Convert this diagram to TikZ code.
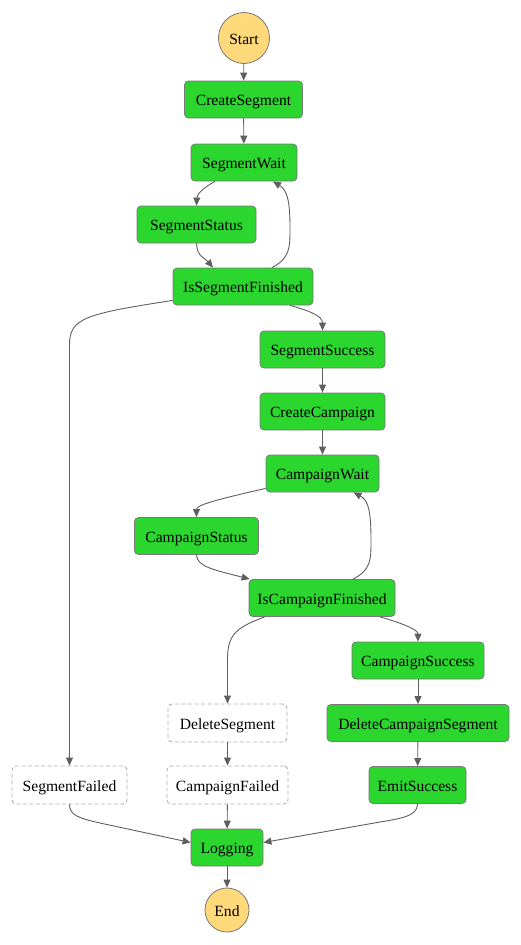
\documentclass[tikz,border=0pt]{standalone}
\usepackage{fontspec}
\setmainfont{Liberation Serif}
\usetikzlibrary{arrows.meta,calc}
\definecolor{okgreen}{RGB}{43,214,46}
\definecolor{okedge}{RGB}{120,120,120}
\definecolor{termfill}{RGB}{255,217,122}
\definecolor{skipedge}{RGB}{175,175,175}
\definecolor{linkgray}{RGB}{95,95,95}
\begin{document}
\begin{tikzpicture}[x=1pt,y=-1pt,
  font=\fontsize{15.6}{18}\selectfont,
  every node/.style={text height=12pt, text depth=0pt},
  state/.style={draw=okedge, fill=okgreen, rounded corners=4pt, line width=0.8pt,
    minimum height=37pt, inner sep=0pt},
  skipped/.style={draw=skipedge, fill=white, dash pattern=on 4pt off 2.5pt,
    rounded corners=4pt, line width=0.9pt, minimum height=38pt, inner sep=0pt},
  terminal/.style={circle, draw=okedge, fill=termfill, line width=0.8pt, inner sep=0pt},
  link/.style={draw=linkgray, line width=0.9pt, -{Triangle[length=8pt,width=7pt]}}]
\useasboundingbox (0,0) rectangle (521,945);

% states
\node[terminal, minimum size=51pt] (start) at (244,38) {Start};
\node[state, minimum width=118pt] (createSeg) at (243.5,99.5) {CreateSegment};
\node[state, minimum width=106pt] (segWait) at (244,162.5) {SegmentWait};
\node[state, minimum width=119pt] (segStatus) at (196.5,224.5) {SegmentStatus};
\node[state, minimum width=140pt] (isSegDone) at (243,286.5) {IsSegmentFinished};
\node[state, minimum width=125pt] (segOk) at (322.5,349.5) {SegmentSuccess};
\node[state, minimum width=125pt] (createCamp) at (322.5,411.5) {CreateCampaign};
\node[state, minimum width=113pt] (campWait) at (322.5,473.5) {CampaignWait};
\node[state, minimum width=124pt] (campStatus) at (196.5,536) {CampaignStatus};
\node[state, minimum width=146pt] (isCampDone) at (322,598) {IsCampaignFinished};
\node[state, minimum width=132pt] (campOk) at (418,660.5) {CampaignSuccess};
\node[skipped, minimum width=119pt] (delSeg) at (227.5,723) {DeleteSegment};
\node[state, minimum width=182pt] (delCampSeg) at (418,723) {DeleteCampaignSegment};
\node[skipped, minimum width=115pt] (segFail) at (69.5,785) {SegmentFailed};
\node[skipped, minimum width=121pt] (campFail) at (227.5,785) {CampaignFailed};
\node[state, minimum width=97pt] (emitOk) at (417.5,785) {EmitSuccess};
\node[state, minimum width=72pt] (logging) at (227,847.5) {Logging};
\node[terminal, minimum size=44pt] (end) at (227,910) {End};

% segment phase
\draw[link] (start) -- (createSeg);
\draw[link] (createSeg) -- (segWait);
\draw[link] ($(segWait.south)+(-29,0)$) .. controls (201,189) and (197,195) .. (segStatus.north);
\draw[link] (segStatus.south) .. controls (197,257) and (205,258) .. ($(isSegDone.north)+(-30,0)$);
\draw[link] ($(isSegDone.north)+(29,0)$) .. controls (290,258) and (290,248) .. (290,228)
  .. controls (290,200) and (287,190) .. ($(segWait.south)+(29,0)$);
\draw[link] ($(isSegDone.south west)+(0,-5)$) .. controls (85,314) and (69.5,318) .. (69.5,345)
  -- (segFail.north);
\draw[link] ($(isSegDone.south)+(47,0)$) .. controls (310,311) and (322.5,316) .. (segOk.north);

% campaign phase
\draw[link] (segOk) -- (createCamp);
\draw[link] (createCamp) -- (campWait);
\draw[link] ($(campWait.south west)+(0,-4)$) .. controls (215,500) and (196.5,505) .. (campStatus.north);
\draw[link] (campStatus.south) .. controls (197,567) and (215,570) .. ($(isCampDone.north west)+(1,0)$);
\draw[link] ($(isCampDone.north)+(31,0)$) .. controls (371,570) and (371,560) .. (371,540)
  .. controls (371,510) and (368,500) .. ($(campWait.south)+(31,0)$);
\draw[link] ($(isCampDone.south west)+(16,0)$) .. controls (235,628) and (227.5,635) .. (227.5,660)
  -- (delSeg.north);
\draw[link] ($(isCampDone.south)+(58,0)$) .. controls (405,624) and (418,630) .. (campOk.north);
\draw[link] (campOk) -- (delCampSeg);
\draw[link] (delCampSeg) -- (emitOk);
\draw[link] (delSeg) -- (campFail);

% wrap-up
\draw[link] (segFail.south) .. controls (69.5,815) and (78,818) .. (100,823)
  -- ($(logging.west)+(0,-5)$);
\draw[link] (campFail) -- (logging);
\draw[link] (emitOk.south) .. controls (417.5,815) and (405,818) .. (380,822)
  -- ($(logging.east)+(0,-5)$);
\draw[link] (logging) -- (end);
\end{tikzpicture}
\end{document}
